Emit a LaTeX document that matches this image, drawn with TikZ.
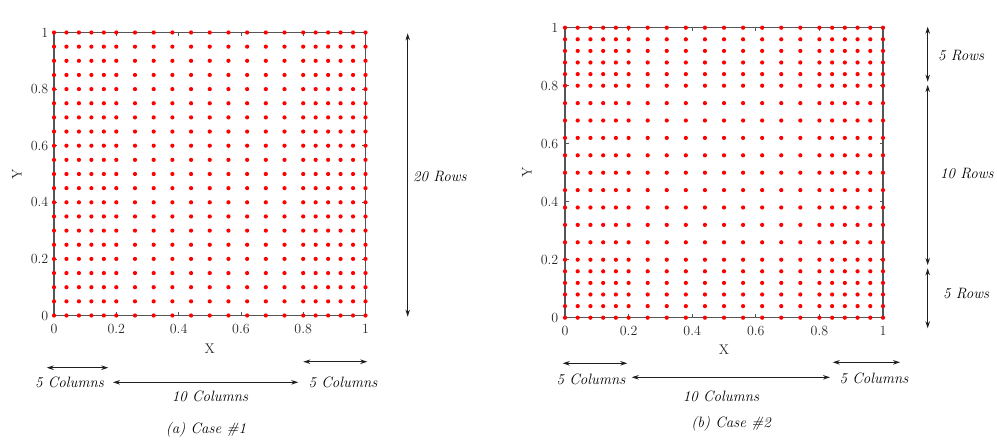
\documentclass[tikz,border=0pt]{standalone}
\usetikzlibrary{arrows.meta}
\definecolor{dotred}{RGB}{255,0,0}
\definecolor{axgray}{RGB}{85,85,85}
\definecolor{arrgray}{RGB}{30,30,30}
\def\nonuniformlist{0,0.04,0.08,0.12,0.16,0.2,0.26,0.32,0.38,0.44,0.5,0.56,0.62,0.68,0.74,0.8,0.84,0.88,0.92,0.96,1}
\def\uniformlist{0,0.05,0.1,0.15,0.2,0.25,0.3,0.35,0.4,0.45,0.5,0.55,0.6,0.65,0.7,0.75,0.8,0.85,0.9,0.95,1}
\begin{document}
\begin{tikzpicture}[x=1pt,y=-1pt,
  dot/.style={fill=dotred},
  axisline/.style={draw=axgray,line width=1.3pt},
  tickmark/.style={draw=axgray,line width=0.8pt},
  ticklab/.style={font=\fontsize{14}{16}\selectfont, text=black!85, inner sep=1pt},
  annot/.style={font=\fontsize{15}{17}\selectfont\itshape, text=black, inner sep=1pt},
  dimarrow/.style={draw=arrgray,line width=1.2pt,{Stealth[length=7pt,width=4.5pt]}-{Stealth[length=7pt,width=4.5pt]}},
]
\useasboundingbox (0,0) rectangle (997,440);

% ---------------- Case 1 ----------------
\begin{scope}[shift={(54,315.5)},x=311.5pt,y=283pt]
  \draw[axisline] (0,0) rectangle (1,1);
  \foreach \t in {0.2,0.4,0.6,0.8} {
    \draw[tickmark] (\t,0) -- (\t,0.012);
    \draw[tickmark] (\t,1) -- (\t,0.988);
    \draw[tickmark] (0,\t) -- (0.011,\t);
    \draw[tickmark] (1,\t) -- (0.989,\t);
  }
  \foreach \t/\l [count=\i] in {0/0,0.2/0.2,0.4/0.4,0.6/0.6,0.8/0.8,1/1} {
    \node[ticklab,anchor=north,yshift=-7.5pt] (axl\i) at (\t,0) {\l};
    \node[ticklab,anchor=east,xshift=-4.5pt] (ayl\i) at (0,\t) {\l};
  }
  \node[ticklab] (axlabel) at (0.5,-0.118) {X};
  \node[ticklab,rotate=90] (aylabel) at (-0.119,0.5) {Y};
  \foreach \x in \nonuniformlist {
    \foreach \y in \uniformlist {
      \fill[dot] (\x,\y) circle (2.1pt);
    }
  }
\end{scope}

% annotations case 1
\coordinate (aRowTop) at (407.7,33.3);
\coordinate (aRowBot) at (407.7,316.7);
\draw[dimarrow] (aRowTop) -- (aRowBot);
\node[annot,anchor=west] (aRows) at (412,176.7) {20 Rows};

\coordinate (aC1L) at (46.7,367.7);
\coordinate (aC1R) at (108.3,367.7);
\draw[dimarrow] (aC1L) -- (aC1R);
\node[annot] (aCol1) at (69.5,382.5) {5 Columns};

\coordinate (aC2L) at (113,382.3);
\coordinate (aC2R) at (298.3,382.3);
\draw[dimarrow] (aC2L) -- (aC2R);
\node[annot] (aCol2) at (210,396.5) {10 Columns};

\coordinate (aC3L) at (303.3,361.7);
\coordinate (aC3R) at (367.3,361.7);
\draw[dimarrow] (aC3L) -- (aC3R);
\node[annot] (aCol3) at (343,382.5) {5 Columns};

\node[annot] (aTitle) at (206,430) {(a) Case \#1};

% ---------------- Case 2 ----------------
\begin{scope}[shift={(565,317.7)},x=318pt,y=290pt]
  \draw[axisline] (0,0) rectangle (1,1);
  \foreach \t in {0.2,0.4,0.6,0.8} {
    \draw[tickmark] (\t,0) -- (\t,0.012);
    \draw[tickmark] (\t,1) -- (\t,0.988);
    \draw[tickmark] (0,\t) -- (0.011,\t);
    \draw[tickmark] (1,\t) -- (0.989,\t);
  }
  \foreach \t/\l [count=\i] in {0/0,0.2/0.2,0.4/0.4,0.6/0.6,0.8/0.8,1/1} {
    \node[ticklab,anchor=north,yshift=-7.5pt] (bxl\i) at (\t,0) {\l};
    \node[ticklab,anchor=east,xshift=-5.5pt] (byl\i) at (0,\t) {\l};
  }
  \node[ticklab] (bxlabel) at (0.5,-0.112) {X};
  \node[ticklab,rotate=90] (bylabel) at (-0.12,0.5) {Y};
  \foreach \x in \nonuniformlist {
    \foreach \y in \nonuniformlist {
      \fill[dot] (\x,\y) circle (2.1pt);
    }
  }
\end{scope}

% annotations case 2
\coordinate (bR1T) at (927.7,26.7);
\coordinate (bR1B) at (927.7,81.7);
\draw[dimarrow] (bR1T) -- (bR1B);
\node[annot,anchor=west] (bRows1) at (937,56) {5 Rows};

\coordinate (bR2T) at (927.7,85);
\coordinate (bR2B) at (927.7,265);
\draw[dimarrow] (bR2T) -- (bR2B);
\node[annot,anchor=west] (bRows2) at (939,173.3) {10 Rows};

\coordinate (bR3T) at (927.7,268.3);
\coordinate (bR3B) at (927.7,328.3);
\draw[dimarrow] (bR3T) -- (bR3B);
\node[annot,anchor=west] (bRows3) at (942,293.3) {5 Rows};

\coordinate (bC1L) at (562.7,363.3);
\coordinate (bC1R) at (627.3,363.3);
\draw[dimarrow] (bC1L) -- (bC1R);
\node[annot] (bCol1) at (591,379.3) {5 Columns};

\coordinate (bC2L) at (631.7,377.3);
\coordinate (bC2R) at (830,377.3);
\draw[dimarrow] (bC2L) -- (bC2R);
\node[annot] (bCol2) at (721,396) {10 Columns};

\coordinate (bC3L) at (832.7,362.3);
\coordinate (bC3R) at (900,362.3);
\draw[dimarrow] (bC3L) -- (bC3R);
\node[annot] (bCol3) at (874,378.3) {5 Columns};

\node[annot] (bTitle) at (731,423.3) {(b) Case \#2};
\end{tikzpicture}
\end{document}
